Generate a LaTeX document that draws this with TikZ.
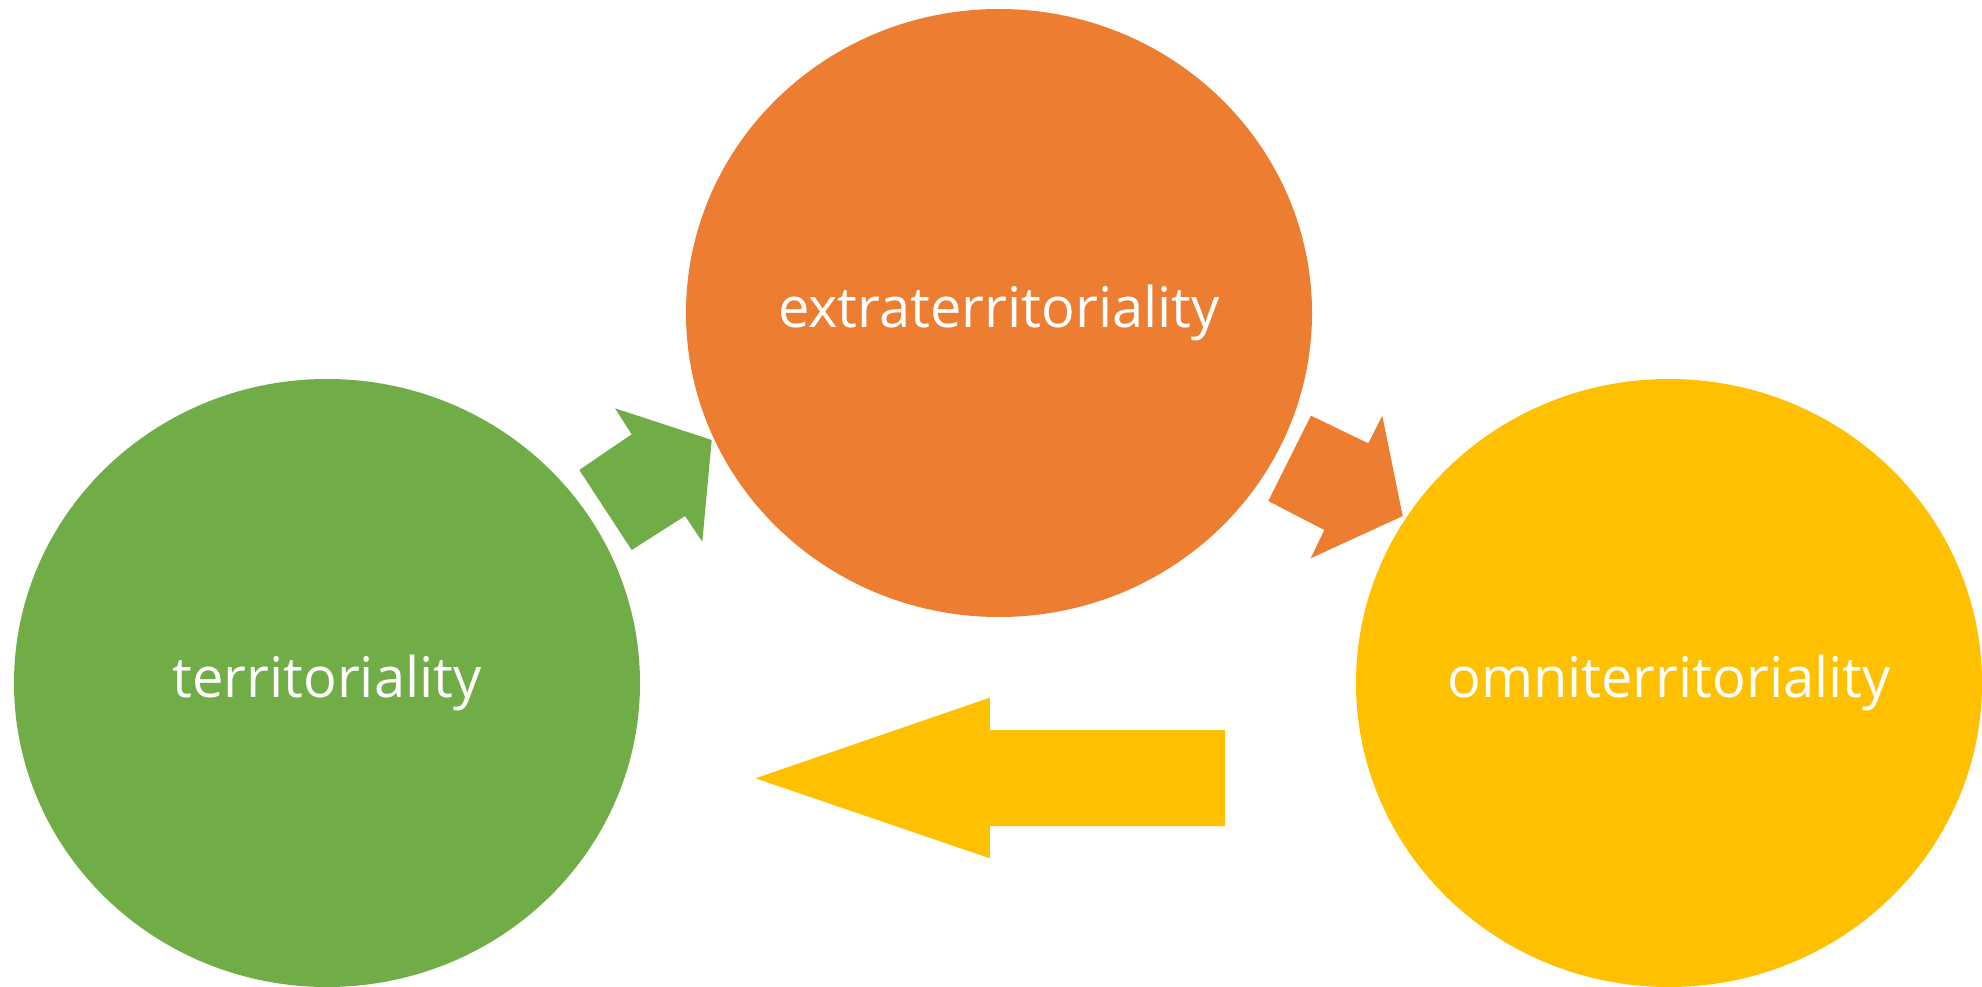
\documentclass[tikz,border=0pt]{standalone}
\usepackage{fontspec}
\setmainfont{Open Sans}
\usetikzlibrary{shapes.geometric}
\definecolor{cgreen}{HTML}{70AD47}
\definecolor{corange}{HTML}{ED7D31}
\definecolor{cyellow}{HTML}{FFC000}
\begin{document}
\begin{tikzpicture}[x=1pt,y=-1pt,
  blob/.style={ellipse, minimum width=626pt, minimum height=608pt, inner sep=0pt},
  blobtext/.style={inner sep=0pt, text=white, font=\fontsize{56}{66}\selectfont},
  blockarrow/.style={draw=none}]
\useasboundingbox (0,0) rectangle (1982,987);
\clip (0,0) rectangle (1982,987);
\node[blob, fill=corange] (extra) at (999,313) {};
\node[blob, fill=cgreen] (terr) at (327,683) {};
\node[blob, fill=cyellow] (omni) at (1669,683) {};
\node[blobtext] (extralabel) at (extra.center) {extraterritoriality};
\node[blobtext] (terrlabel) at (terr.center) {territoriality};
\node[blobtext] (omnilabel) at (omni.center) {omniterritoriality};
% green arrow: territoriality -> extraterritoriality
\fill[blockarrow, cgreen] (711.7,440) -- (702.3,541.7) -- (685,516) -- (631.7,550)
  -- (579.3,470) -- (631.7,434.3) -- (615,408.3) -- cycle;
% orange arrow: extraterritoriality -> omniterritoriality
\fill[blockarrow, corange] (1311,415.7) -- (1368.3,443.3) -- (1382.3,415.7) -- (1402.7,516)
  -- (1310.7,558.3) -- (1324.3,530) -- (1268.3,501) -- cycle;
% yellow arrow: omniterritoriality -> territoriality
\fill[blockarrow, cyellow] (755.5,778.3) -- (989.8,697.7) -- (989.8,730) -- (1225,730)
  -- (1225,826) -- (989.8,826) -- (989.8,858.3) -- cycle;
\end{tikzpicture}
\end{document}
